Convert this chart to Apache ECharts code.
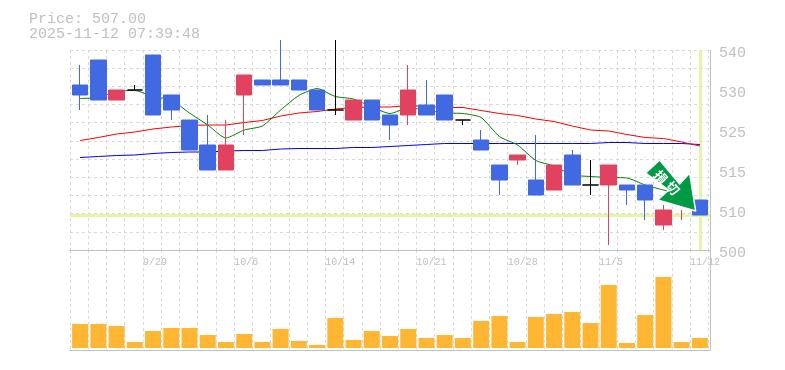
<!DOCTYPE html>
<html>
<head>
<meta charset="utf-8">
<style>html,body{margin:0;padding:0;background:#fff}#c{width:785px;height:370px}</style>
<script src="https://cdn.jsdelivr.net/npm/echarts@6/dist/echarts.min.js"></script>
</head>
<body>
<div id="c"></div>
<script>
const priceText = 'Price: 507.00';
const timeText = '2025-11-12 07:39:48';
const currentPrice = 507;
const categories = ['9/22','9/24','9/25','9/26','9/29','9/30','10/1','10/2','10/3','10/6','10/7','10/8','10/9','10/10','10/14','10/15','10/16','10/17','10/20','10/21','10/22','10/23','10/24','10/27','10/28','10/29','10/30','10/31','11/4','11/5','11/6','11/7','11/10','11/11','11/12'];
const tickLabels = ['9/29','10/6','10/14','10/21','10/28','11/5','11/12'];
const priceTicks = ['500','510','515','525','530','540'];
const opens  = [533,538,530,532,539,531,526,521,516,531,534,534,534,532,528,526,530,527,527,529,531,526,522,517,518,514,512,519,513,513,513,513,505,507,510];
const closes = [531,530,532,532,527,528,520,516,521,535,533,533,532,528,528,530,526,525,532,527,526,526,520,514,519,511,517,513,513,517,512,510,508,507,507];
const lows   = [528,530,530,532,527,526,520,516,516,523,533,533,532,528,527,526,526,522,525,527,526,525,520,511,517,511,512,513,511,501,509,506,504,506,507];
const highs  = [537,538,532,533,539,531,526,527,526,535,534,542,534,532,542,530,530,527,537,534,531,526,524,517,519,523,517,520,518,517,513,513,509,508,510];
const ma5  = [530.3,530.5,531.7,531.9,530.7,530,527.4,525,522.4,524,524.8,528,530.9,532.3,530.7,530.2,528.6,527.3,528.4,528,527.4,527.3,526.5,522.7,521,517.9,516.8,515,514.7,514.5,514.4,513,512,511,509];
const ma25 = [521.9,522.5,523.2,523.6,524.2,524.6,524.9,525,525,525.5,525.9,526.8,527.4,527.7,528.2,528.5,528.6,528.6,528.9,528.7,528.5,528.5,527.9,527.3,526.9,526.2,525.7,524.8,524,523.8,523.1,522.5,522.3,521.6,520.8];
const ma75 = [518.5,518.7,518.9,519,519.3,519.5,519.6,519.6,519.8,519.9,519.9,520.2,520.3,520.3,520.3,520.5,520.5,520.7,520.9,521.1,521.3,521.3,521.3,521.3,521.3,521.3,521.3,521.3,521.3,521.5,521.5,521.3,521.3,521.3,521.1];
const volumes = [24,24,22,6,17,20,20,13,6,14,6,19,7,3,30,8,17,12,19,10,13,10,27,32,6,31,34,36,25,63,5,33,71,6,10];
const wickOnlyIndex = 33;
const signalPoint = [33, 507.8];
const signalChars = ['損','切'];

const GREY = '#c0c0c0', DASH = '#d9d9d9', MONO = '"Liberation Mono", monospace';
const BLUE = '#4169e1', RED = '#e0425f', PALE = '#e5f5a6';
const candle = i => [opens[i], closes[i], lows[i], highs[i]];
const blank = ['-','-','-','-'];
const dashed = {show:true, interval:0, lineStyle:{color:DASH, type:[3,3], width:1}};
const solid = {show:true, onZero:false, lineStyle:{color:GREY, width:1}};
const none = {show:false};
const boundaries = [...categories,''];
// grid 0/3: frame, grid 1/4: marks, grid 2/5: vertical dashes and date labels
const hiddenX = (g) => ({gridIndex:g, type:'category', position:'bottom', data:categories, axisLine:none, axisTick:none, axisLabel:none, splitLine:none});
const hiddenY = (g,min,max) => ({gridIndex:g, type:'value', min, max, axisLine:none, axisTick:none, axisLabel:none, splitLine:none});

const chart = echarts.init(document.getElementById('c'), null, {renderer:'canvas'});
chart.setOption({
  animation:false,
  backgroundColor:'#fff',
  title:{left:29, top:12, padding:0, text:priceText + '\n' + timeText,
    textStyle:{fontFamily:MONO, fontSize:15, fontWeight:'normal', color:GREY, lineHeight:15}},
  grid:[
    {left:70, top:50, width:640, height:200},
    {left:71, top:50, width:638, height:200},
    {left:70, top:50, width:638.3, height:200},
    {left:70, top:250, width:640, height:100},
    {left:71, top:250, width:638, height:100},
    {left:70, top:250, width:638.3, height:100}
  ],
  xAxis:[
    {...hiddenX(0), axisLine:solid},
    hiddenX(1),
    {gridIndex:2, type:'category', position:'bottom', boundaryGap:false, data:boundaries, axisLine:none, axisTick:none, splitLine:dashed,
      axisLabel:{show:true, interval:0, align:'left', margin:7, fontFamily:MONO, fontSize:10, color:GREY,
        formatter:v => tickLabels.includes(v) ? v : ''}},
    {...hiddenX(3), axisLine:solid},
    hiddenX(4),
    {gridIndex:5, type:'category', position:'bottom', boundaryGap:false, data:boundaries, axisLine:none, axisTick:none, axisLabel:none, splitLine:dashed}
  ],
  yAxis:[
    {gridIndex:0, type:'value', position:'right', min:500, max:540, interval:8, axisLine:solid, axisTick:none, splitLine:none,
      axisLabel:{margin:9, verticalAlign:'top', lineHeight:6, fontFamily:MONO, fontSize:15, color:GREY,
        formatter:(v) => priceTicks[Math.round((v-500)/8)]}},
    {gridIndex:0, type:'value', position:'left', min:0, max:11, interval:1, axisLine:none, axisTick:none, axisLabel:none, splitLine:dashed},
    hiddenY(1,500,540),
    hiddenY(2,0,1),
    {gridIndex:3, type:'value', position:'right', min:0, max:1, axisLine:solid, axisTick:none, axisLabel:none, splitLine:none},
    hiddenY(4,-2,98),
    hiddenY(5,0,1)
  ],
  series:[
    {type:'line', name:'Current', xAxisIndex:0, yAxisIndex:0, z:1, data:categories.map(() => null), symbol:'none',
      markLine:{silent:true, z:0, symbol:'none', label:{show:false}, animation:false,
        lineStyle:{color:PALE, width:3, type:'solid'}, data:[{yAxis:currentPrice}]}},
    {type:'line', name:'MA75', xAxisIndex:1, yAxisIndex:2, z:1, data:ma75, symbol:'none', lineStyle:{color:'#0000ff', width:1}},
    {type:'line', name:'MA25', xAxisIndex:1, yAxisIndex:2, z:1, data:ma25, symbol:'none', lineStyle:{color:'#ff0000', width:1}},
    {type:'line', name:'MA5', xAxisIndex:1, yAxisIndex:2, z:1, data:ma5, symbol:'none', smooth:0.2, lineStyle:{color:'#008000', width:1},
      markLine:{silent:true, z:0, symbol:'none', label:{show:false}, animation:false,
        lineStyle:{color:PALE, width:3, type:'solid'},
        data:[{xAxis:categories[categories.length-1]}]}},
    {type:'candlestick', name:'Price', xAxisIndex:1, yAxisIndex:2, z:3, barWidth:16,
      data:categories.map((_,i) => i===wickOnlyIndex ? blank : candle(i)),
      itemStyle:{color:RED, color0:BLUE, borderColor:RED, borderColor0:BLUE, borderColorDoji:'#000', borderWidth:1}},
    {type:'candlestick', name:'PriceThin', xAxisIndex:1, yAxisIndex:2, z:3, barWidth:1,
      data:categories.map((_,i) => i===wickOnlyIndex ? candle(i) : blank),
      itemStyle:{color:RED, color0:RED, borderColor:RED, borderColor0:RED, borderColorDoji:RED, borderWidth:1}},
    {type:'bar', name:'Volume', xAxisIndex:4, yAxisIndex:5, data:volumes, barWidth:16, itemStyle:{color:'#ffb733'}},
    {type:'custom', name:'Signal', xAxisIndex:1, yAxisIndex:2, z:5, clip:false, silent:true, data:[signalPoint],
      renderItem:(params, api) => {
        const p = api.coord([api.value(0), api.value(1)]);
        const shape = [[-22,-51],[-2,-27],[8,-38],[14,0],[-24,-11],[-13,-21],[-36,-38]];
        const pts = shape.map(o => [p[0]+o[0], p[1]+o[1]]);
        const chars = [[-21,-34],[-9,-23]];
        return {type:'group', children:[
          {type:'polygon', shape:{points:pts}, style:{fill:'#009a44', stroke:'#fff', lineWidth:1.5, lineJoin:'round'}},
          ...signalChars.map((ch,k) => ({type:'text', x:p[0]+chars[k][0], y:p[1]+chars[k][1], rotation:-0.85,
            style:{text:ch, fill:'#fff', font:'bold 13px "Noto Sans CJK JP"', align:'center', verticalAlign:'middle'}}))
        ]};
      }}
  ]
});
</script>
</body>
</html>
